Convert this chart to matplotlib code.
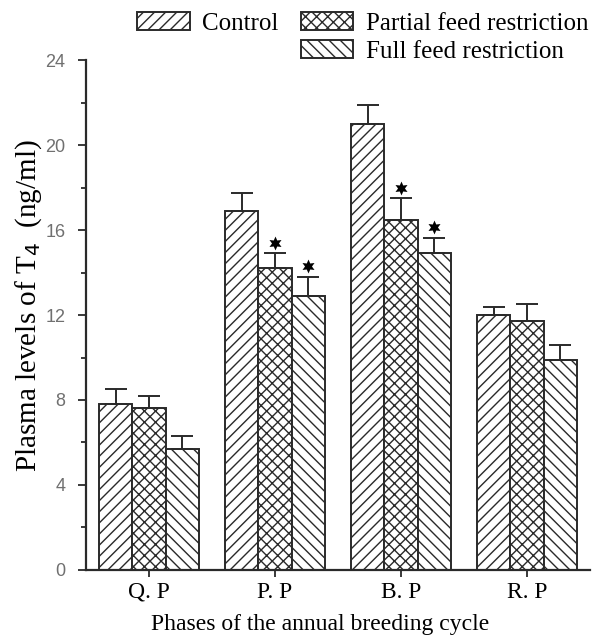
import numpy as np
import matplotlib
matplotlib.use('Agg')
import matplotlib.pyplot as plt
from matplotlib.patches import Patch

plt.rcParams['font.family'] = ['Liberation Serif', 'DejaVu Serif']
plt.rcParams['hatch.linewidth'] = 1.0

phases = ['Q. P', 'P. P', 'B. P', 'R. P']
control = [7.8, 16.9, 21.0, 12.0]
control_err = [0.7, 0.85, 0.9, 0.4]
partial = [7.6, 14.2, 16.5, 11.7]
partial_err = [0.6, 0.7, 1.0, 0.8]
full = [5.7, 12.9, 14.9, 9.9]
full_err = [0.6, 0.9, 0.75, 0.7]
# significance stars (True = marked)
partial_sig = [False, True, True, False]
full_sig = [False, True, True, False]

fig = plt.figure(figsize=(5.94, 6.41), dpi=100)
ax = fig.add_axes([0.145, 0.111, 0.848, 0.795])

x = np.arange(len(phases))
w = 0.265
series = [
    (control, control_err, '///', 'Control', None),
    (partial, partial_err, 'xxx', 'Partial feed restriction', partial_sig),
    (full, full_err, '\\\\\\', 'Full feed restriction', full_sig),
]
handles = []
for i, (vals, errs, hatch, label, sig) in enumerate(series):
    xs = x + (i - 1) * w
    b = ax.bar(xs, vals, width=w, facecolor='white', edgecolor='#2a2a2a',
               hatch=hatch, linewidth=1.4, label=label, zorder=2)
    ax.errorbar(xs, vals, yerr=[np.zeros(len(vals)), errs], fmt='none',
                ecolor='#2a2a2a', elinewidth=1.4, capsize=8, capthick=1.4, zorder=3)
    handles.append(b)
    if sig is not None:
        for xx, v, e, s in zip(xs, vals, errs, sig):
            if s:
                ax.scatter(xx, v + e + 0.5, marker=(6, 1, 0), s=100, c='black',
                           linewidths=0, zorder=4)

ax.set_xlim(-0.5, 3.5)
ax.set_ylim(0, 24)
ax.set_yticks([0, 4, 8, 12, 16, 20, 24])
ax.set_yticks([2, 6, 10, 14, 18, 22], minor=True)
ax.set_xticks(x)
ax.set_xticklabels(phases, fontsize=17)
ax.set_yticklabels([str(v) for v in [0, 4, 8, 12, 16, 20, 24]],
                   family=['Liberation Sans', 'DejaVu Sans'], fontsize=13, color='#707070')
ax.tick_params(axis='y', width=1.3, length=6, pad=9, color='#2a2a2a')
ax.tick_params(axis='y', which='minor', width=1.3, length=3.5, color='#2a2a2a')
ax.tick_params(axis='x', width=1.3, length=5, color='#2a2a2a')
for s in ['top', 'right']:
    ax.spines[s].set_visible(False)
for s in ['left', 'bottom']:
    ax.spines[s].set_linewidth(1.6)
    ax.spines[s].set_color('#2a2a2a')

ax.set_ylabel('Plasma levels of T$_4$  (ng/ml)', fontsize=21)
ax.yaxis.set_label_coords(-0.083, 0.518)
ax.set_xlabel('Phases of the annual breeding cycle', fontsize=17)
ax.xaxis.set_label_coords(0.464, -0.086)

blank = Patch(visible=False)
fig.legend([handles[0], blank, handles[1], handles[2]],
           ['Control', '', 'Partial feed restriction', 'Full feed restriction'],
           ncol=2, loc='upper left', bbox_to_anchor=(137 / 594, 1 - 12 / 641),
           frameon=False, borderpad=0, borderaxespad=0,
           fontsize=18, handlelength=2.1, handleheight=0.7, columnspacing=0.9,
           handletextpad=0.5, labelspacing=0.22)

fig.savefig('out.png', dpi=100)
